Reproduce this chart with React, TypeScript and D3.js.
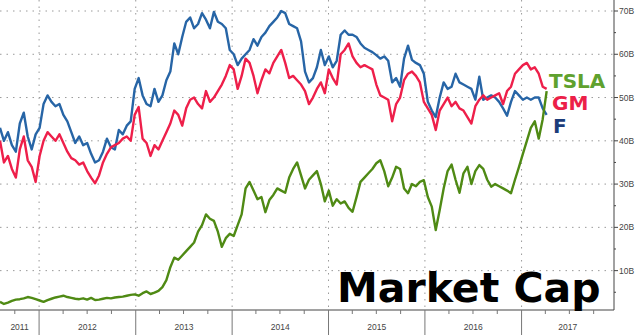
import React from 'react';
import * as d3 from 'd3';

// ---- data (market cap, $B), one value every 15 days from 2011-08-06 ----
const START = new Date(2011, 7, 6);
const STEP_DAYS = 15;

const fValues = [
  43, 40, 42, 39, 37.5, 44, 46.5, 41, 38, 41.5,
  43, 48.5, 50.5, 49, 48, 48.5, 46, 44.5, 42, 39.5,
  41, 39, 39.5, 37, 35, 35.5, 37.5, 40.5, 38.5, 38,
  42.5, 41.5, 43.5, 44.5, 52, 54.5, 50.5, 48.5, 48, 52,
  49, 50.5, 54, 56, 62.5, 60, 64, 67.5, 68.5, 66,
  67, 69.5, 68, 66, 69.8, 67.5, 67, 66, 61, 60,
  57.5, 59, 60, 61, 63.5, 62, 64, 65, 66.5, 67.5,
  68.5, 70, 69.5, 67, 66.5, 66, 63, 56, 53.5, 54.5,
  57, 61, 57.5, 59.5, 57, 58.5, 64.5, 65.5, 64.5, 64.5,
  64, 62.5, 61.5, 61, 60.5, 59.8, 59, 59.5, 58.5, 53.5,
  54.5, 52.5, 59, 62, 58.7, 58, 57.5, 55.5, 49, 47,
  45.5, 50, 53.5, 52, 52.5, 55.5, 53.5, 53, 52.5, 52,
  49.5, 54.8, 49.5, 50, 50.5, 50, 49, 47.5, 45.8, 49,
  51.5, 50.5, 49.5, 50, 49.5, 50, 50, 47.5, 46,
];

const gmValues = [
  40, 35, 36.5, 33.5, 31.5, 38, 41, 35.5, 34, 30.5,
  36.5, 40, 42, 41, 40, 41.5, 39.5, 37.5, 36, 35.5,
  34.5, 35, 33, 31.5, 30.2, 32, 35, 37, 38.5, 39,
  39.5, 40.5, 41, 40, 46, 47.8, 40.5, 39.5, 36.5, 39,
  38, 40, 42, 44, 47, 46, 43.5, 47.5, 49.5, 50,
  48.5, 47.5, 51.5, 49, 50, 51.5, 53, 55, 57.5, 56.5,
  52, 55, 59, 58, 55, 51, 54, 56.5, 55.6, 58,
  59.5, 61, 58, 54.5, 55, 54, 53, 51.5, 48.5, 50,
  52, 53.5, 51, 56.5, 54.5, 53, 60, 61, 62.5, 59.5,
  58, 57, 57.5, 57, 56.5, 53, 50.5, 50, 49.5, 44.5,
  48.5, 50, 54, 55.5, 56, 55, 53.5, 49, 47.5, 46,
  42.5, 47, 48.5, 50, 48, 49, 47.5, 47, 45.5, 44,
  48, 49.5, 50.5, 49.5, 50, 50.5, 51, 48.5, 51.5, 52.5,
  55.5, 56.5, 57.5, 58, 56.5, 57, 55.5, 52.5, 52,
];

const tslaValues = [
  2.8, 2.3, 2.6, 3, 3.3, 3.4, 3.6, 3.9, 3.7, 3.4,
  3.1, 2.8, 3.2, 3.5, 3.8, 4, 4.2, 3.9, 3.7, 3.5,
  3.4, 3.6, 3.3, 3.7, 3.2, 3.3, 3.5, 3.7, 3.6, 3.8,
  3.9, 4, 4.2, 4.4, 4.5, 4.2, 4.8, 5.2, 4.6, 4.9,
  5.3, 6.2, 7.8, 10.8, 13, 12.5, 13.5, 14.5, 15.5, 16.5,
  19, 20.5, 23, 22, 21.5, 19, 15.5, 17.5, 18.5, 18,
  20.5, 23, 29, 30.5, 28.5, 26.5, 27, 23.5, 26.3, 27.5,
  29, 28.5, 28, 31.5, 33.5, 35, 32, 29, 31, 32,
  33, 30, 26, 28.5, 25, 26.5, 25.5, 26, 24.5, 23.6,
  27, 30.5, 31.5, 32.5, 33.5, 34.8, 35.5, 33, 29.5, 31.5,
  34, 33.5, 29, 27.9, 30, 29.5, 30.5, 30.9, 27, 24.8,
  19.4, 24, 29, 33, 34.5, 31, 28, 32.5, 34, 30,
  33, 34.4, 33.5, 31, 29.4, 30, 29.5, 29, 28.5, 27.9,
  31, 33.9, 37, 40, 43, 44.5, 40.5, 45, 51.5,
];

const yTicks = [10, 20, 30, 40, 50, 60, 70];
const yMinorTicks = [5, 15, 25, 35, 45, 55, 65];
const yearLabels = ['2011', '2012', '2013', '2014', '2015', '2016', '2017'];

const seriesNames = ['F', 'GM', 'TSLA'];

// ---- layout ----
const W = 640;
const H = 335;
const AXIS_X = 614;
const AXIS_Y = 310;

const x = d3.scaleTime()
  .domain([new Date(2011, 7, 6), new Date(2017, 11, 17)])
  .range([0, AXIS_X]);
const y = d3.scaleLinear().domain([0, 70]).range([313.9, 11]);

const toPoints = (vals: number[]) =>
  vals.map((v, i) => ({ date: d3.timeDay.offset(START, i * STEP_DAYS), v }));

const lineGen = d3.line<{ date: Date; v: number }>()
  .x(d => x(d.date))
  .y(d => y(d.v))
  .curve(d3.curveLinear);

const series = [
  { name: seriesNames[0], vals: fValues, color: '#2765a6', label: '#1c3d7a', ly: 133, lx: 553 },
  { name: seriesNames[1], vals: gmValues, color: '#ee1f4a', label: '#ec2048', ly: 110, lx: 552 },
  { name: seriesNames[2], vals: tslaValues, color: '#4f8a14', label: '#5fa12e', ly: 88, lx: 549 },
];

export default function App() {
  const yearStarts = yearLabels.map(yl => new Date(+yl, 0, 1));
  const boundaries = yearStarts.slice(1);
  const quarterTicks = d3.timeMonth.every(3)!.range(new Date(2011, 9, 1), new Date(2017, 11, 2))
    .filter(d => d.getMonth() !== 0);
  const fontAxis = '"Liberation Sans", Arial, sans-serif';
  const fontBold = '"DejaVu Sans", Verdana, sans-serif';

  return (
    <div style={{ position: 'absolute', left: 0, top: 0 }}>
      <svg width={W} height={H} style={{ display: 'block', background: '#fff' }}>
        <rect x={0} y={0} width={W} height={H} fill="#fff" />
        {/* horizontal gridlines */}
        {yTicks.map(t => (
          <line key={'hg' + t} x1={0} x2={AXIS_X} y1={y(t)} y2={y(t)}
            stroke="#9a9a9a" strokeWidth={1} strokeDasharray="1.5,5" />
        ))}
        {/* vertical gridlines */}
        {boundaries.map((d, i) => (
          <line key={'vg' + i} x1={x(d)} x2={x(d)} y1={0} y2={AXIS_Y}
            stroke="#9a9a9a" strokeWidth={1} strokeDasharray="1.5,5" />
        ))}

        {/* series */}
        {series.map(s => (
          <path key={s.name} d={lineGen(toPoints(s.vals)) || ''} fill="none"
            stroke={s.color} strokeWidth={2.4} strokeLinejoin="round" />
        ))}

        {/* right axis */}
        <line x1={AXIS_X} x2={AXIS_X} y1={0} y2={AXIS_Y} stroke="#444" strokeWidth={1} />
        {yTicks.map(t => (
          <g key={'yt' + t}>
            <line x1={AXIS_X} x2={AXIS_X + 4} y1={y(t)} y2={y(t)} stroke="#444" strokeWidth={1} />
            <text x={AXIS_X + 5} y={y(t) + 3} fontSize={8.5} fill="#444" fontFamily={fontAxis}>{t}B</text>
          </g>
        ))}
        {yMinorTicks.map(t => (
          <line key={'ym' + t} x1={AXIS_X} x2={AXIS_X + 2} y1={y(t)} y2={y(t)} stroke="#444" strokeWidth={1} />
        ))}

        {/* bottom axis */}
        <line x1={0} x2={AXIS_X} y1={AXIS_Y} y2={AXIS_Y} stroke="#444" strokeWidth={1} />
        {boundaries.map((d, i) => (
          <line key={'yb' + i} x1={x(d)} x2={x(d)} y1={AXIS_Y} y2={H} stroke="#777" strokeWidth={1} />
        ))}
        {quarterTicks.map((d, i) => (
          <line key={'qt' + i} x1={x(d)} x2={x(d)} y1={AXIS_Y} y2={AXIS_Y + 4} stroke="#777" strokeWidth={1} />
        ))}
        {yearLabels.map((yl, i) => {
          const a = Math.max(0, x(yearStarts[i]));
          const b = i < yearLabels.length - 1 ? x(yearStarts[i + 1]) : AXIS_X;
          return (
            <text key={'yl' + yl} x={(a + b) / 2} y={330} textAnchor="middle"
              fontSize={8.5} fill="#444" fontFamily={fontAxis}>{yl}</text>
          );
        })}

        {/* series labels */}
        {series.map(s => (
          <text key={'lab' + s.name} x={s.lx} y={s.ly} fontSize={20} fontWeight="bold"
            fill={s.label} fontFamily={fontBold}>{s.name}</text>
        ))}

        {/* title */}
        <text x={337} y={302} fontSize={41} fontWeight="bold" fill="#000"
          fontFamily={fontBold}>Market Cap</text>
      </svg>
    </div>
  );
}
